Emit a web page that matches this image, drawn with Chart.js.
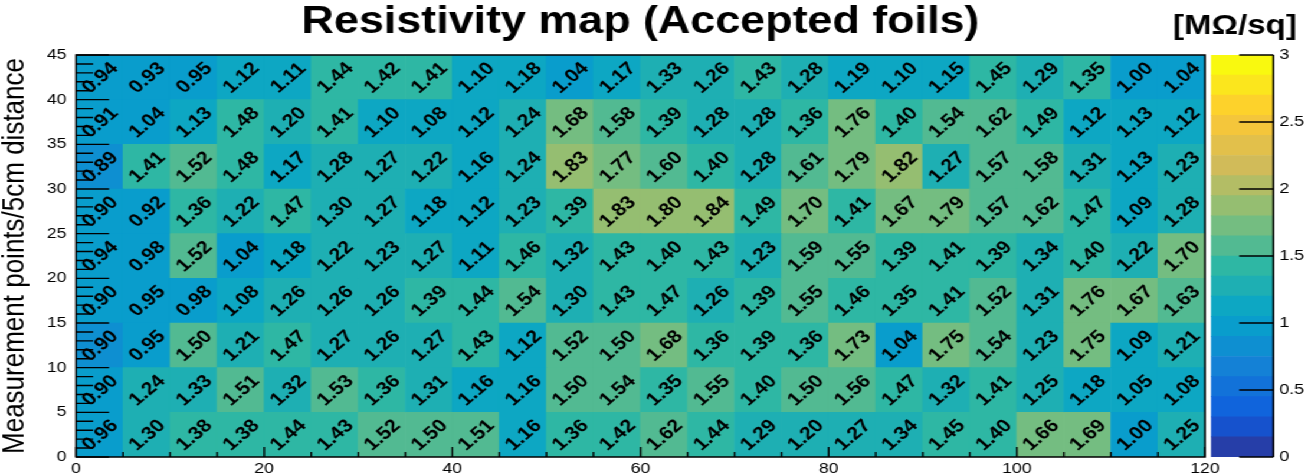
<!DOCTYPE html>
<html>
<head>
<meta charset="utf-8">
<script src="https://cdn.jsdelivr.net/npm/chart.js@4.4.1/dist/chart.umd.min.js"></script>
<style>
  html, body { margin: 0; padding: 0; background: #fff; overflow: hidden; }
  /* the ROOT canvas was stretched sideways, so the whole drawing is too */
  #wrap { position: relative; width: 1105px; height: 476px; transform: scaleX(1.18); transform-origin: 0 0; }
  #mapBox { position: absolute; left: 0; top: 0; width: 1105px; height: 476px; }
  #barBox { position: absolute; left: 1020px; top: 0; width: 85px; height: 476px; }
</style>
</head>
<body>
<div id="wrap">
  <div id="mapBox"><canvas id="mapChart"></canvas></div>
  <div id="barBox"><canvas id="scaleChart"></canvas></div>
</div>
<script>
// bin centres along x, 24 columns of 5 cm
const xCenters = [2.5, 7.5, 12.5, 17.5, 22.5, 27.5, 32.5, 37.5, 42.5, 47.5, 52.5, 57.5,
                  62.5, 67.5, 72.5, 77.5, 82.5, 87.5, 92.5, 97.5, 102.5, 107.5, 112.5, 117.5];
const rowEdges = [0, 5, 10, 15, 20, 25, 30, 35, 40, 45];

// resistivity in MOhm/sq, one array per row, bottom row first
const row0  = [0.96, 1.30, 1.38, 1.38, 1.44, 1.43, 1.52, 1.50, 1.51, 1.16, 1.36, 1.42, 1.62, 1.44, 1.29, 1.20, 1.27, 1.34, 1.45, 1.40, 1.66, 1.69, 1.00, 1.25];
const row5  = [0.90, 1.24, 1.33, 1.51, 1.32, 1.53, 1.36, 1.31, 1.16, 1.16, 1.50, 1.54, 1.35, 1.55, 1.40, 1.50, 1.56, 1.47, 1.32, 1.41, 1.25, 1.18, 1.05, 1.08];
const row10 = [0.899, 0.95, 1.50, 1.21, 1.47, 1.27, 1.26, 1.27, 1.43, 1.12, 1.52, 1.50, 1.68, 1.36, 1.39, 1.36, 1.73, 1.04, 1.75, 1.54, 1.23, 1.75, 1.09, 1.21];
const row15 = [0.90, 0.95, 0.98, 1.08, 1.26, 1.26, 1.26, 1.39, 1.44, 1.54, 1.30, 1.43, 1.47, 1.26, 1.39, 1.55, 1.46, 1.35, 1.41, 1.52, 1.31, 1.76, 1.67, 1.63];
const row20 = [0.94, 0.98, 1.52, 1.04, 1.18, 1.22, 1.23, 1.27, 1.11, 1.46, 1.32, 1.43, 1.40, 1.43, 1.23, 1.59, 1.55, 1.39, 1.41, 1.39, 1.34, 1.40, 1.22, 1.70];
const row25 = [0.90, 0.92, 1.36, 1.22, 1.47, 1.30, 1.27, 1.18, 1.12, 1.23, 1.39, 1.83, 1.80, 1.84, 1.49, 1.70, 1.41, 1.67, 1.79, 1.57, 1.62, 1.47, 1.09, 1.28];
const row30 = [0.89, 1.41, 1.52, 1.48, 1.17, 1.28, 1.27, 1.22, 1.16, 1.24, 1.83, 1.77, 1.60, 1.40, 1.28, 1.61, 1.79, 1.82, 1.27, 1.57, 1.58, 1.31, 1.13, 1.23];
const row35 = [0.91, 1.04, 1.13, 1.48, 1.20, 1.41, 1.10, 1.08, 1.12, 1.24, 1.68, 1.58, 1.39, 1.28, 1.28, 1.36, 1.76, 1.40, 1.54, 1.62, 1.49, 1.12, 1.13, 1.12];
const row40 = [0.94, 0.93, 0.95, 1.12, 1.11, 1.44, 1.42, 1.41, 1.10, 1.18, 1.04, 1.17, 1.33, 1.26, 1.43, 1.28, 1.19, 1.10, 1.15, 1.45, 1.29, 1.35, 1.00, 1.04];
const rows = [row0, row5, row10, row15, row20, row25, row30, row35, row40];

// colour levels of the z axis (20 contours)
const levels = [0, 0.15, 0.3, 0.45, 0.6, 0.75, 0.9, 1.05, 1.2, 1.35, 1.5,
                1.65, 1.8, 1.95, 2.1, 2.25, 2.4, 2.55, 2.7, 2.85, 3];

// ROOT kBird palette
const birdStops = [0.0000, 0.1250, 0.2500, 0.3750, 0.5000, 0.6250, 0.7500, 0.8750, 1.0000];
const birdR = [0.2082, 0.0592, 0.0780, 0.0232, 0.1802, 0.5301, 0.8186, 0.9956, 0.9764];
const birdG = [0.1664, 0.3599, 0.5041, 0.6419, 0.7178, 0.7492, 0.7328, 0.7862, 0.9832];
const birdB = [0.5293, 0.8684, 0.8385, 0.7914, 0.6425, 0.4662, 0.3499, 0.1968, 0.0539];

const FONT = '"Liberation Sans", Arial, Helvetica, sans-serif';
Chart.defaults.font.family = FONT;
Chart.defaults.color = '#000';

const buildPalette = (n) => {
    const pal = [];
    for (let g = 1; g < birdStops.length; g++) {
        const k = Math.floor(birdStops[g] * n) - Math.floor(birdStops[g - 1] * n);
        for (let c = 0; c < k; c++) {
            const mix = (arr) => Math.round(255 * (arr[g - 1] + c * (arr[g] - arr[g - 1]) / k));
            pal.push(`rgb(${mix(birdR)}, ${mix(birdG)}, ${mix(birdB)})`);
        }
    }
    return pal;
};
const palette = buildPalette(255);
const nBands = levels.length - 1;

const bandColor = (band) => palette[Math.floor((band + 0.99) * palette.length / nBands)];
const bandOf = (v) => {
    let b = 0;
    for (let i = 0; i < nBands; i++) if (v >= levels[i] - 1e-9) b = i;
    return b;
};

// cell values, inner ticks and frame like a ROOT TH2 "colz text" plot
const rootDecor = {
    id: 'rootDecor',
    afterDatasetsDraw(chart) {
        const { ctx, chartArea: a, scales: { x, y } } = chart;
        ctx.save();
        ctx.font = `bold 18px ${FONT}`;
        ctx.fillStyle = '#000';
        ctx.textAlign = 'center';
        ctx.textBaseline = 'middle';
        rows.forEach((vals, r) => {
            chart.getDatasetMeta(r).data.forEach((bar, i) => {
                const c = bar.getCenterPoint();
                ctx.save();
                ctx.translate(c.x, c.y);
                ctx.rotate(-Math.PI / 4);
                ctx.fillText(vals[i].toFixed(2), 0, 1);
                ctx.restore();
            });
        });

        ctx.strokeStyle = '#000';
        ctx.lineWidth = 1.4;
        ctx.beginPath();
        for (let v = 0; v <= 120; v += 5) {
            const px = x.getPixelForValue(v);
            ctx.moveTo(px, a.bottom);
            ctx.lineTo(px, a.bottom - (v % 20 === 0 ? 10 : 5));
        }
        for (let v = 0; v <= 45; v += 1) {
            const py = y.getPixelForValue(v);
            ctx.moveTo(a.left, py);
            ctx.lineTo(a.left + (v % 5 === 0 ? 28 : 14.5), py);
        }
        ctx.stroke();
        ctx.lineWidth = 1.5;
        ctx.strokeRect(a.left, a.top, a.right - a.left, a.bottom - a.top);

        ctx.font = `bold 28px ${FONT}`;
        ctx.textAlign = 'right';
        ctx.textBaseline = 'alphabetic';
        ctx.fillText('[M\u03A9/sq]', 1099, 33.5);
        ctx.restore();
    }
};

// axis line and ticks of the colour scale
const paletteAxis = {
    id: 'paletteAxis',
    afterDatasetsDraw(chart) {
        const { ctx, chartArea: a, scales: { y } } = chart;
        ctx.save();
        ctx.strokeStyle = '#000';
        ctx.lineWidth = 1.5;
        ctx.beginPath();
        ctx.moveTo(a.right, a.top);
        ctx.lineTo(a.right, a.bottom);
        for (let v = 0; v <= 3; v += 0.5) {
            const py = y.getPixelForValue(v);
            ctx.moveTo(a.right, py);
            ctx.lineTo(a.right - 29, py);
        }
        ctx.stroke();
        ctx.restore();
    }
};

new Chart(document.getElementById('mapChart'), {
    type: 'bar',
    data: {
        datasets: rows.map((vals, r) => ({
            label: `y ${rowEdges[r]}-${rowEdges[r + 1]}`,
            data: vals.map((v, i) => ({ x: xCenters[i], y: [rowEdges[r], rowEdges[r + 1]] })),
            backgroundColor: vals.map(v => bandColor(bandOf(v))),
            borderWidth: 0,
            grouped: false,
            barPercentage: 1,
            categoryPercentage: 1
        }))
    },
    options: {
        animation: false,
        responsive: true,
        maintainAspectRatio: false,
        layout: { padding: { left: 0, right: 83.81, top: 0, bottom: 0 } },
        plugins: {
            legend: { display: false },
            tooltip: { enabled: false },
            title: {
                display: true,
                text: 'Resistivity map (Accepted foils)',
                fullSize: false,
                color: '#000',
                font: { size: 38, weight: 'bold', lineHeight: 1 },
                padding: { top: 4, bottom: 13 }
            }
        },
        scales: {
            x: {
                type: 'linear', min: 0, max: 120, offset: false,
                grid: { display: false, drawTicks: false },
                border: { display: false },
                ticks: { stepSize: 20, autoSkip: false, maxRotation: 0, padding: 2.5, color: '#000', font: { size: 15, lineHeight: 1.2 } },
                afterFit: (s) => { s.height = 19; }
            },
            y: {
                type: 'linear', min: 0, max: 45,
                grid: { display: false, drawTicks: false },
                border: { display: false },
                ticks: { stepSize: 5, padding: 8, color: '#000', font: { size: 15 } },
                title: { display: true, text: 'Measurement points/5cm distance', color: '#000', font: { size: 26, lineHeight: 1 }, padding: 0 },
                afterFit: (s) => { s.width = 64.41; }
            }
        }
    },
    plugins: [rootDecor]
});

new Chart(document.getElementById('scaleChart'), {
    type: 'bar',
    data: {
        labels: [''],
        datasets: levels.slice(0, -1).map((lo, k) => ({
            label: `${lo}`,
            data: [[lo, levels[k + 1]]],
            backgroundColor: bandColor(k),
            borderWidth: 0,
            grouped: false,
            barPercentage: 1,
            categoryPercentage: 1
        }))
    },
    options: {
        animation: false,
        responsive: true,
        maintainAspectRatio: false,
        layout: { padding: { left: 6.27, right: 0, top: 55, bottom: 19 } },
        plugins: { legend: { display: false }, tooltip: { enabled: false } },
        scales: {
            x: { display: false },
            y: {
                position: 'right', min: 0, max: 3,
                grid: { display: false, drawTicks: false },
                border: { display: false },
                ticks: { stepSize: 0.5, padding: 5, color: '#000', font: { size: 15 },
                         callback: (v) => String(Number(v.toFixed(2))) },
                afterFit: (s) => { s.width = 25.8; }
            }
        }
    },
    plugins: [paletteAxis]
});
</script>
</body>
</html>
